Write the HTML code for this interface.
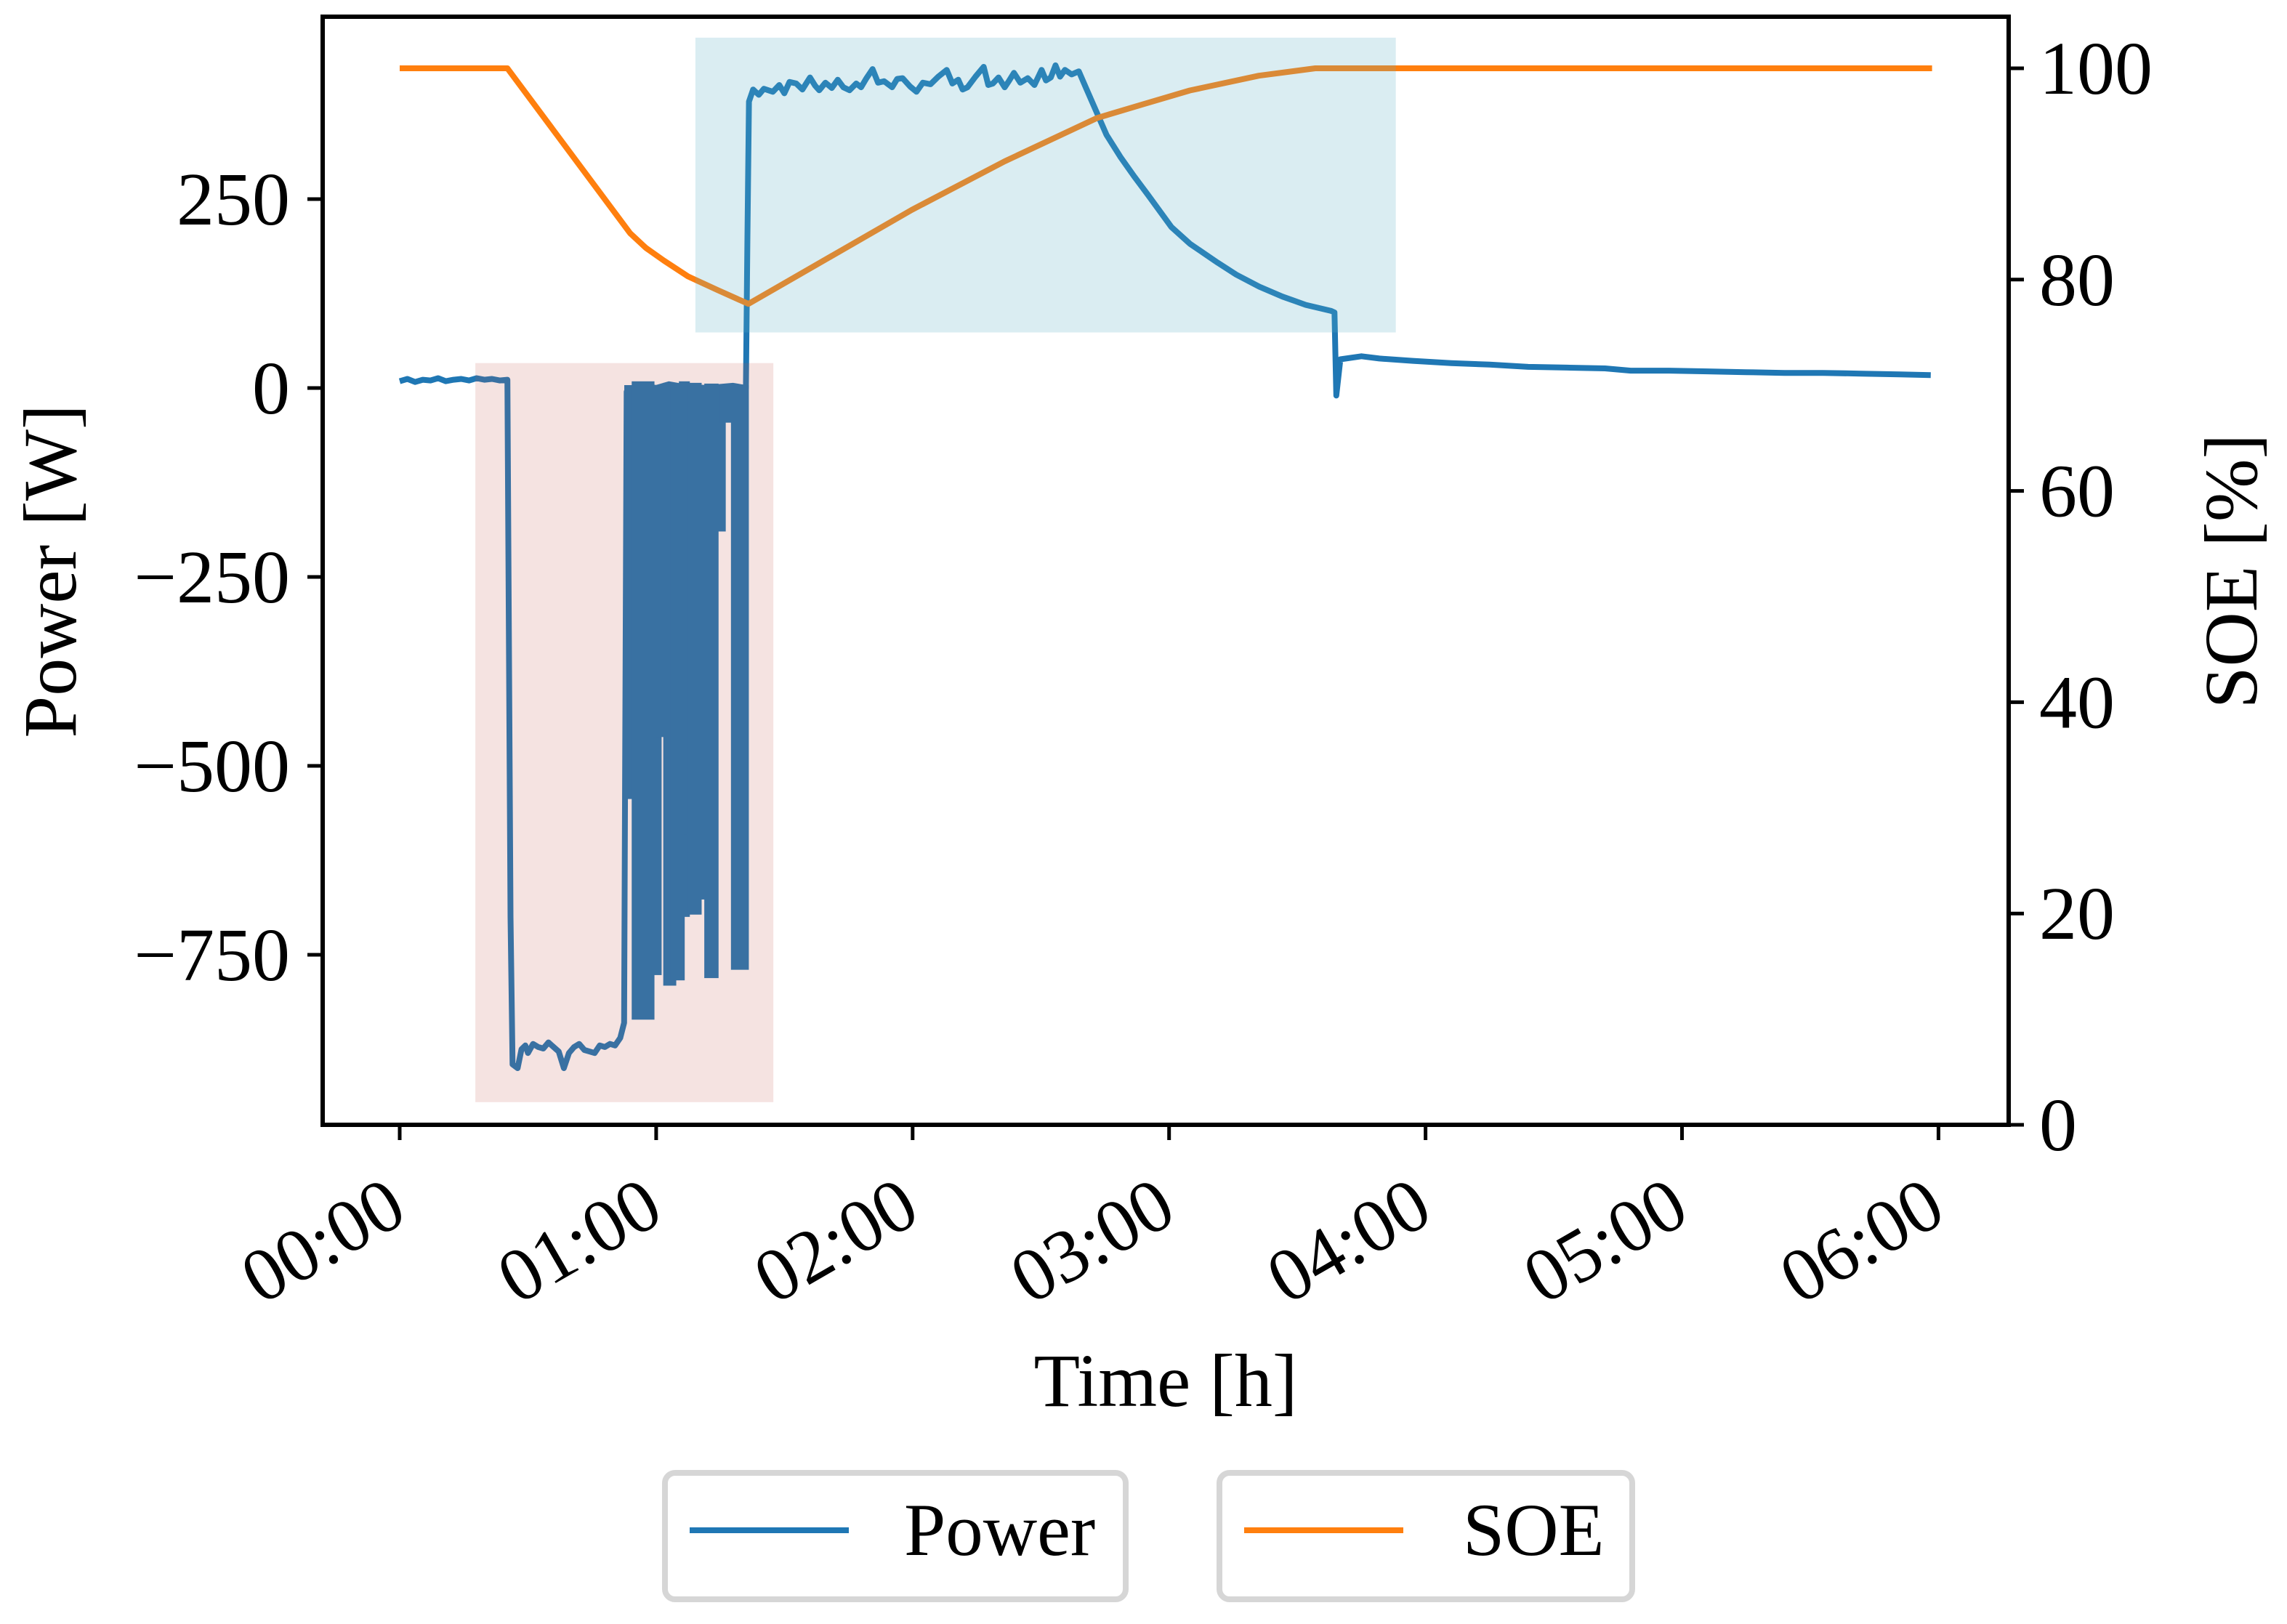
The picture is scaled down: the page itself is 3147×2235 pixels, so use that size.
<!DOCTYPE html>
<html>
<head>
<meta charset="utf-8">
<style>
  html, body { margin: 0; padding: 0; background: #ffffff; }
  svg { display: block; }
  text { font-family: "Liberation Serif", "DejaVu Serif", serif; fill: #000; }
</style>
</head>
<body>
<svg id="chart" width="3147" height="2235" viewBox="0 0 3147 2235" xmlns="http://www.w3.org/2000/svg">
  <rect x="0" y="0" width="3147" height="2235" fill="#ffffff"/>
  <g id="plot"></g>
  <g id="overlay"></g>
  <g id="axes"></g>
  <g id="legend">
    <rect x="915" y="2027" width="634" height="174" rx="14" fill="#ffffff" stroke="#d6d6d6" stroke-width="8"/>
    <line x1="949" y1="2106" x2="1168" y2="2106" stroke="#1f77b4" stroke-width="8"/>
    <text x="1244" y="2140" font-size="103">Power</text>
    <rect x="1678" y="2027" width="568" height="174" rx="14" fill="#ffffff" stroke="#d6d6d6" stroke-width="8"/>
    <line x1="1712" y1="2106" x2="1931" y2="2106" stroke="#ff7f0e" stroke-width="8"/>
    <text x="2013" y="2140" font-size="103">SOE</text>
  </g>
</svg>
<script>
// ---- data ----
const xTickLabels = ["00:00","01:00","02:00","03:00","04:00","05:00","06:00"];
const xTickHours = [0,1,2,3,4,5,6];
const powerTicks = [250,0,-250,-500,-750];
const powerTickLabels = ["250","0","\u2212250","\u2212500","\u2212750"];
const soeTicks = [0,20,40,60,80,100];
const soeTickLabels = ["0","20","40","60","80","100"];

const powerT = [0,0.03,0.06,0.09,0.12,0.15,0.18,0.21,0.24,0.27,0.30,0.33,0.36,0.39,0.42,
  0.432,0.44,0.46,0.475,0.49,0.50,0.52,0.54,0.56,0.58,0.60,0.62,0.64,0.66,0.68,0.70,0.72,0.74,0.76,0.78,0.80,0.82,0.84,0.86,0.875,
  0.885,0.95,1.0,1.05,1.1,1.2,1.3,1.35,1.356,1.362,1.378,
  1.40,1.42,1.455,1.48,1.50,1.52,1.546,1.57,1.600,1.62,1.636,1.66,1.685,1.708,1.73,1.754,1.78,1.799,1.82,1.844,1.865,1.889,1.92,1.94,1.961,1.99,2.015,2.04,2.070,2.10,2.133,2.155,2.178,2.195,2.214,2.245,2.277,2.295,2.313,2.335,2.359,2.375,2.395,2.42,2.449,2.475,2.503,2.52,2.539,2.557,2.575,2.594,2.62,2.648,
  2.675,2.720,2.756,2.810,2.864,2.919,3.009,3.081,3.189,3.262,3.352,3.442,3.533,3.632,3.645,3.652,3.668,
  3.75,3.82,3.95,4.1,4.25,4.4,4.55,4.7,4.8,4.95,5.1,5.25,5.4,5.55,5.7,5.85,5.97];
const powerV = [9,12,8,11,10,13,9,11,12,10,13,11,12,10,11,
  -700,-895,-900,-875,-870,-880,-868,-872,-874,-866,-872,-878,-900,-880,-872,-868,-876,-878,-880,-870,-872,-868,-870,-860,-840,
  -5,3,0,5,2,0,3,0,200,379,395,
  388,396,392,401,390,405,403,395,411,400,394,404,397,408,398,394,403,398,410,422,404,406,398,409,410,399,392,404,402,412,421,403,408,395,398,412,425,401,403,411,398,406,417,404,410,401,421,407,411,427,412,421,415,419,
  398,363,335,306,280,255,213,191,166,150,134,121,110,102,100,-10,38,
  42,39,36,33,31,28,27,26,23,23,22,21,20,20,19,18,17];

// oscillation bursts (dense switching between ~0 W and a low value)
const burstStart = [0.887,0.916,0.982,1.010,1.039,1.067,1.100,1.120,1.133,1.166,1.199,1.232,1.260,1.303];
const burstEnd   = [0.916,0.982,1.010,1.039,1.067,1.100,1.120,1.133,1.166,1.199,1.232,1.260,1.289,1.350];
const burstLow   = [-540,-832,-773,-458,-787,-780,-696,-587,-693,-673,-777,-186,-42,-766];
const burstHigh  = [0,5,0,0,3,0,5,0,3,0,2,0,0,0];

const soeT = [0,0.42,0.898,0.96,1.03,1.124,1.24,1.36,1.997,2.359,2.72,2.899,3.081,3.35,3.57,5.975];
const soeV = [100,100,84.4,83.0,81.8,80.3,79.0,77.7,86.6,91.2,95.3,96.6,97.9,99.3,100,100];

const spanRedT = [0.295,1.457];
const spanRedP = [-945,33];
const spanBlueSoe = [75.0,102.9];
const spanBlueT = [1.153,2.884];
const spanBlueT2 = 3.884;

// ---- axes geometry ----
const L = 444, R = 2764, T = 23, B = 1548;
const xScale = h => 550 + h * 352.9;
const yP = p => 534 - p * (260 / 250);
const yS = s => 1548 - s * 14.54;

const NS = "http://www.w3.org/2000/svg";
function mk(tag, parent) { const e = document.createElementNS(NS, tag); parent.appendChild(e); return e; }
const plot = document.getElementById('plot');
const overlay = document.getElementById('overlay');
const axes = document.getElementById('axes');
const FS = 104;

// power line
let d = powerT.map((t, i) => (i ? 'L' : 'M') + xScale(t).toFixed(1) + ' ' + yP(powerV[i]).toFixed(1)).join(' ');
const pl = mk('path', plot);


pl.setAttribute('d', d);
pl.setAttribute('fill', 'none');
pl.setAttribute('stroke', '#1f77b4');
pl.setAttribute('stroke-width', '8');
pl.setAttribute('stroke-linejoin', 'round');

// bursts
burstStart.forEach((s, i) => {
  const r = mk('rect', plot);
  
  
  const x0 = xScale(s), x1 = xScale(burstEnd[i]);
  r.setAttribute('x', x0 - 4);
  r.setAttribute('width', x1 - x0 + 8);
  r.setAttribute('y', yP(burstHigh[i]) - 4);
  r.setAttribute('height', yP(burstLow[i]) - yP(burstHigh[i]) + 8);
  r.setAttribute('fill', '#1f77b4');
});

// soe line
d = soeT.map((t, i) => (i ? 'L' : 'M') + xScale(t).toFixed(1) + ' ' + yS(soeV[i]).toFixed(1)).join(' ');
const sl = mk('path', plot);


sl.setAttribute('d', d);
sl.setAttribute('fill', 'none');
sl.setAttribute('stroke', '#ff7f0e');
sl.setAttribute('stroke-width', '8');
sl.setAttribute('stroke-linejoin', 'round');

// shaded spans (drawn over lines with alpha)
const sr = mk('rect', overlay);


sr.setAttribute('x', xScale(spanRedT[0]));
sr.setAttribute('width', xScale(spanRedT[1]) - xScale(spanRedT[0]));
sr.setAttribute('y', yP(spanRedP[1]));
sr.setAttribute('height', yP(spanRedP[0]) - yP(spanRedP[1]));
sr.setAttribute('fill', 'rgba(194,85,73,0.165)');
const sb = mk('rect', overlay);


sb.setAttribute('x', xScale(spanBlueT[0]));
sb.setAttribute('width', xScale(spanBlueT2) - xScale(spanBlueT[0]));
sb.setAttribute('y', yS(spanBlueSoe[1]));
sb.setAttribute('height', yS(spanBlueSoe[0]) - yS(spanBlueSoe[1]));
sb.setAttribute('fill', 'rgba(92,176,198,0.227)');

// frame
const fr = mk('rect', axes);


fr.setAttribute('x', L); fr.setAttribute('y', T);
fr.setAttribute('width', R - L); fr.setAttribute('height', B - T);
fr.setAttribute('fill', 'none'); fr.setAttribute('stroke', '#000'); fr.setAttribute('stroke-width', '6');

// x ticks
xTickHours.forEach((h, i) => {
  const x = xScale(h);
  const tk = mk('line', axes);
  
  
  tk.setAttribute('x1', x); tk.setAttribute('x2', x);
  tk.setAttribute('y1', B); tk.setAttribute('y2', B + 21);
  tk.setAttribute('stroke', '#000'); tk.setAttribute('stroke-width', '5');
  const tx = mk('text', axes);
  
  
  const ax = x + 14, ay = B + 130;
  tx.setAttribute('x', ax); tx.setAttribute('y', ay);
  tx.setAttribute('text-anchor', 'end');
  tx.setAttribute('font-size', FS);
  tx.setAttribute('transform', 'rotate(-30 ' + ax + ' ' + ay + ')');
  tx.textContent = xTickLabels[i];
});

// left ticks
powerTicks.forEach((p, i) => {
  const y = yP(p);
  const tk = mk('line', axes);
  
  
  tk.setAttribute('x1', L - 21); tk.setAttribute('x2', L);
  tk.setAttribute('y1', y); tk.setAttribute('y2', y);
  tk.setAttribute('stroke', '#000'); tk.setAttribute('stroke-width', '5');
  const tx = mk('text', axes);
  
  
  tx.setAttribute('x', L - 45); tx.setAttribute('y', y + 35);
  tx.setAttribute('text-anchor', 'end');
  tx.setAttribute('font-size', FS);
  tx.textContent = powerTickLabels[i];
});

// right ticks
soeTicks.forEach((s, i) => {
  const y = yS(s);
  const tk = mk('line', axes);
  
  
  tk.setAttribute('x1', R); tk.setAttribute('x2', R + 21);
  tk.setAttribute('y1', y); tk.setAttribute('y2', y);
  tk.setAttribute('stroke', '#000'); tk.setAttribute('stroke-width', '5');
  const tx = mk('text', axes);
  
  
  tx.setAttribute('x', R + 42); tx.setAttribute('y', y + 35);
  tx.setAttribute('font-size', FS);
  tx.textContent = soeTickLabels[i];
});

// axis titles
const yl = mk('text', axes);


yl.setAttribute('x', 0); yl.setAttribute('y', 0);
yl.setAttribute('text-anchor', 'middle');
yl.setAttribute('font-size', FS);
yl.setAttribute('transform', 'translate(104 786) rotate(-90)');
yl.textContent = 'Power [W]';
const yr = mk('text', axes);


yr.setAttribute('x', 0); yr.setAttribute('y', 0);
yr.setAttribute('text-anchor', 'middle');
yr.setAttribute('font-size', FS);
yr.setAttribute('transform', 'translate(3105 786) rotate(-90)');
yr.textContent = 'SOE [%]';
const xl = mk('text', axes);


xl.setAttribute('x', 1604); xl.setAttribute('y', 1935);
xl.setAttribute('text-anchor', 'middle');
xl.setAttribute('font-size', FS);
xl.textContent = 'Time [h]';
</script>
</body>
</html>
